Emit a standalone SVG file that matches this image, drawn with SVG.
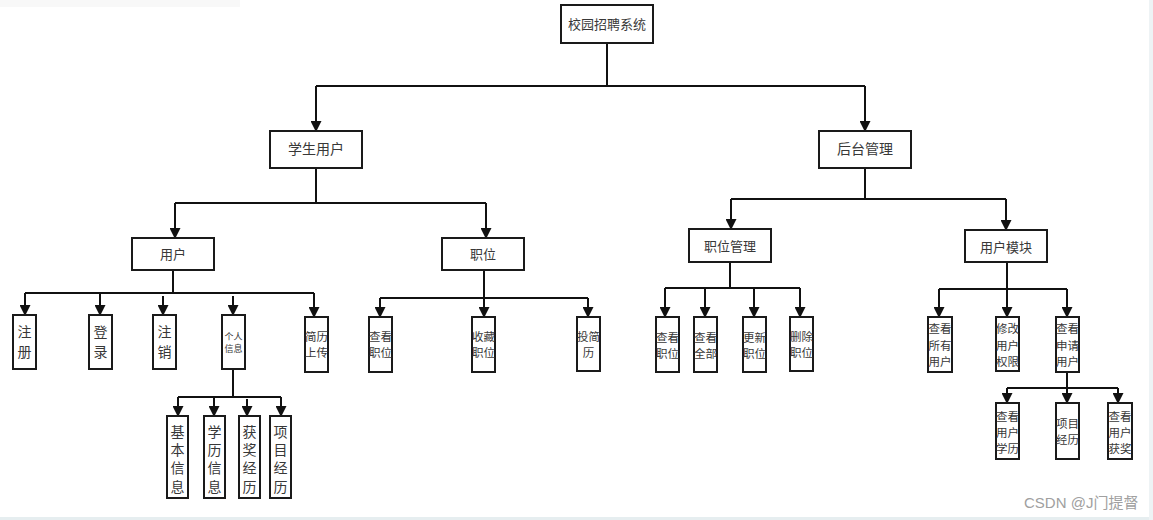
<svg xmlns="http://www.w3.org/2000/svg" width="1153" height="520" viewBox="0 0 1153 520">
<style>
.box{fill:#fff;stroke:#1a1a1a;stroke-width:2}
.t{font-family:"Noto Sans CJK SC","Noto Sans",sans-serif;fill:#383838;text-anchor:middle}
.c{fill:none;stroke:#111;stroke-width:2}
.a{marker-end:url(#arr)}
</style>
<defs>
<marker id="arr" markerUnits="userSpaceOnUse" markerWidth="11" markerHeight="11" refX="10" refY="5.5" orient="auto">
<path d="M0,0 L11,5.5 L0,11 z" fill="#111"/>
</marker>
</defs>
<rect x="0" y="0" width="1153" height="520" fill="#fff"/>
<rect x="0" y="0" width="240" height="7" fill="#f8f8f8"/>
<rect x="0" y="517" width="1153" height="3" fill="#e6eef0"/>
<rect x="1149" y="0" width="4" height="520" fill="#eef3f5"/>

<g id="connectors">
<path class="c" d="M607,43 V86 M316,86 H865 M316,168 V203 M175,203 H486 M865,168 V199 M731,199 H1006"/>
<path class="c a" d="M316,86 V131"/>
<path class="c a" d="M865,86 V131"/>
<path class="c a" d="M175,203 V238"/>
<path class="c a" d="M486,203 V238"/>
<path class="c a" d="M731,199 V229"/>
<path class="c a" d="M1006,199 V230"/>

<path class="c" d="M173,270 V293 M25,293 H314"/>
<path class="c a" d="M25,293 V315"/>
<path class="c a" d="M100,293 V315"/>
<path class="c a" d="M163,296 V315"/>
<path class="c a" d="M233,296 V315"/>
<path class="c a" d="M314,293 V317"/>

<path class="c" d="M233,369 V397 M178,397 H281"/>
<path class="c a" d="M178,397 V416"/>
<path class="c a" d="M214,397 V416"/>
<path class="c a" d="M247,399 V416"/>
<path class="c a" d="M281,397 V416"/>

<path class="c" d="M484,270 V298 M380,298 H588"/>
<path class="c a" d="M380,298 V317"/>
<path class="c a" d="M484,298 V317"/>
<path class="c a" d="M588,298 V317"/>

<path class="c" d="M730,262 V288 M665,288 H800"/>
<path class="c a" d="M665,288 V317"/>
<path class="c a" d="M705,288 V317"/>
<path class="c a" d="M754,288 V317"/>
<path class="c a" d="M800,288 V317"/>

<path class="c" d="M1007,262 V289 M939,289 H1067"/>
<path class="c a" d="M939,289 V317"/>
<path class="c a" d="M1007,289 V317"/>
<path class="c a" d="M1067,289 V317"/>

<path class="c" d="M1067,372 V388 M1007,388 H1118"/>
<path class="c a" d="M1007,388 V403"/>
<path class="c a" d="M1067,388 V403"/>
<path class="c a" d="M1118,388 V403"/>
</g>

<g id="root"><rect class="box" x="561" y="5" width="92" height="38"/><text class="t" x="607" y="29" font-size="13">校园招聘系统</text></g>
<g id="student"><rect class="box" x="270" y="131" width="92" height="37"/><text class="t" x="316" y="154" font-size="14">学生用户</text></g>
<g id="backend"><rect class="box" x="819" y="131" width="92" height="37"/><text class="t" x="865" y="154" font-size="14">后台管理</text></g>

<g id="user"><rect class="box" x="132" y="238" width="82" height="32"/><text class="t" x="173" y="259" font-size="13">用户</text></g>
<g id="job"><rect class="box" x="442" y="238" width="82" height="32"/><text class="t" x="483" y="259" font-size="13">职位</text></g>
<g id="jobmgr"><rect class="box" x="689" y="229" width="82" height="33"/><text class="t" x="730" y="251" font-size="13">职位管理</text></g>
<g id="usermod"><rect class="box" x="965" y="230" width="82" height="32"/><text class="t" x="1006" y="252" font-size="13">用户模块</text></g>

<g id="register"><rect class="box" x="13" y="315" width="23" height="54"/><text class="t" font-size="14"><tspan x="24.5" y="337">注</tspan><tspan x="24.5" y="357">册</tspan></text></g>
<g id="login"><rect class="box" x="89" y="315" width="23" height="54"/><text class="t" font-size="14"><tspan x="100.5" y="337">登</tspan><tspan x="100.5" y="357">录</tspan></text></g>
<g id="logout"><rect class="box" x="153" y="315" width="23" height="54"/><text class="t" font-size="14"><tspan x="164.5" y="337">注</tspan><tspan x="164.5" y="357">销</tspan></text></g>
<g id="personal"><rect class="box" x="222" y="315" width="23" height="54"/><text class="t" font-size="9"><tspan x="233.5" y="340">个人</tspan><tspan x="233.5" y="352">信息</tspan></text></g>
<g id="resume"><rect class="box" x="305" y="317" width="23" height="55"/><text class="t" font-size="11.5"><tspan x="316.5" y="341">简历</tspan><tspan x="316.5" y="357">上传</tspan></text></g>

<g id="basic"><rect class="box" x="167" y="416" width="21" height="82"/><text class="t" font-size="14"><tspan x="177.5" y="437">基</tspan><tspan x="177.5" y="455">本</tspan><tspan x="177.5" y="473">信</tspan><tspan x="177.5" y="492">息</tspan></text></g>
<g id="edu"><rect class="box" x="204" y="416" width="21" height="82"/><text class="t" font-size="14"><tspan x="214.5" y="437">学</tspan><tspan x="214.5" y="455">历</tspan><tspan x="214.5" y="473">信</tspan><tspan x="214.5" y="492">息</tspan></text></g>
<g id="award"><rect class="box" x="239" y="416" width="21" height="82"/><text class="t" font-size="14"><tspan x="249.5" y="437">获</tspan><tspan x="249.5" y="455">奖</tspan><tspan x="249.5" y="473">经</tspan><tspan x="249.5" y="492">历</tspan></text></g>
<g id="project"><rect class="box" x="270" y="416" width="21" height="82"/><text class="t" font-size="14"><tspan x="280.5" y="437">项</tspan><tspan x="280.5" y="455">目</tspan><tspan x="280.5" y="473">经</tspan><tspan x="280.5" y="492">历</tspan></text></g>

<g id="viewjob"><rect class="box" x="369" y="317" width="23" height="55"/><text class="t" font-size="11.5"><tspan x="380.5" y="341">查看</tspan><tspan x="380.5" y="357">职位</tspan></text></g>
<g id="favjob"><rect class="box" x="472" y="317" width="23" height="55"/><text class="t" font-size="11.5"><tspan x="483.5" y="341">收藏</tspan><tspan x="483.5" y="357">职位</tspan></text></g>
<g id="apply"><rect class="box" x="577" y="317" width="23" height="54"/><text class="t" font-size="11.5"><tspan x="588.5" y="341">投简</tspan><tspan x="588.5" y="357">历</tspan></text></g>

<g id="m-viewjob"><rect class="box" x="656" y="317" width="23" height="55"/><text class="t" font-size="11.5"><tspan x="667.5" y="342">查看</tspan><tspan x="667.5" y="358">职位</tspan></text></g>
<g id="m-viewall"><rect class="box" x="694" y="317" width="23" height="55"/><text class="t" font-size="11.5"><tspan x="705.5" y="342">查看</tspan><tspan x="705.5" y="358">全部</tspan></text></g>
<g id="m-update"><rect class="box" x="743" y="317" width="23" height="55"/><text class="t" font-size="11.5"><tspan x="754.5" y="342">更新</tspan><tspan x="754.5" y="358">职位</tspan></text></g>
<g id="m-delete"><rect class="box" x="790" y="317" width="23" height="54"/><text class="t" font-size="11.5"><tspan x="801.5" y="341">删除</tspan><tspan x="801.5" y="357">职位</tspan></text></g>

<g id="u-all"><rect class="box" x="928" y="317" width="24" height="55"/><text class="t" font-size="11.5"><tspan x="940" y="333">查看</tspan><tspan x="940" y="350">所有</tspan><tspan x="940" y="366">用户</tspan></text></g>
<g id="u-perm"><rect class="box" x="996" y="317" width="23" height="54"/><text class="t" font-size="11.5"><tspan x="1007.5" y="333">修改</tspan><tspan x="1007.5" y="350">用户</tspan><tspan x="1007.5" y="366">权限</tspan></text></g>
<g id="u-applied"><rect class="box" x="1056" y="317" width="23" height="55"/><text class="t" font-size="11.5"><tspan x="1067.5" y="333">查看</tspan><tspan x="1067.5" y="350">申请</tspan><tspan x="1067.5" y="366">用户</tspan></text></g>

<g id="u-edu"><rect class="box" x="996" y="403" width="23" height="56"/><text class="t" font-size="11.5"><tspan x="1007.5" y="421">查看</tspan><tspan x="1007.5" y="437">用户</tspan><tspan x="1007.5" y="453">学历</tspan></text></g>
<g id="u-proj"><rect class="box" x="1056" y="403" width="23" height="56"/><text class="t" font-size="11.5"><tspan x="1067.5" y="428">项目</tspan><tspan x="1067.5" y="444">经历</tspan></text></g>
<g id="u-award"><rect class="box" x="1108" y="403" width="24" height="56"/><text class="t" font-size="11.5"><tspan x="1120" y="421">查看</tspan><tspan x="1120" y="437">用户</tspan><tspan x="1120" y="453">获奖</tspan></text></g>

<text x="1024" y="508" font-family="Liberation Sans,Noto Sans CJK SC,sans-serif" font-size="15" fill="#a0a0a0">CSDN @J门提督</text>
</svg>
